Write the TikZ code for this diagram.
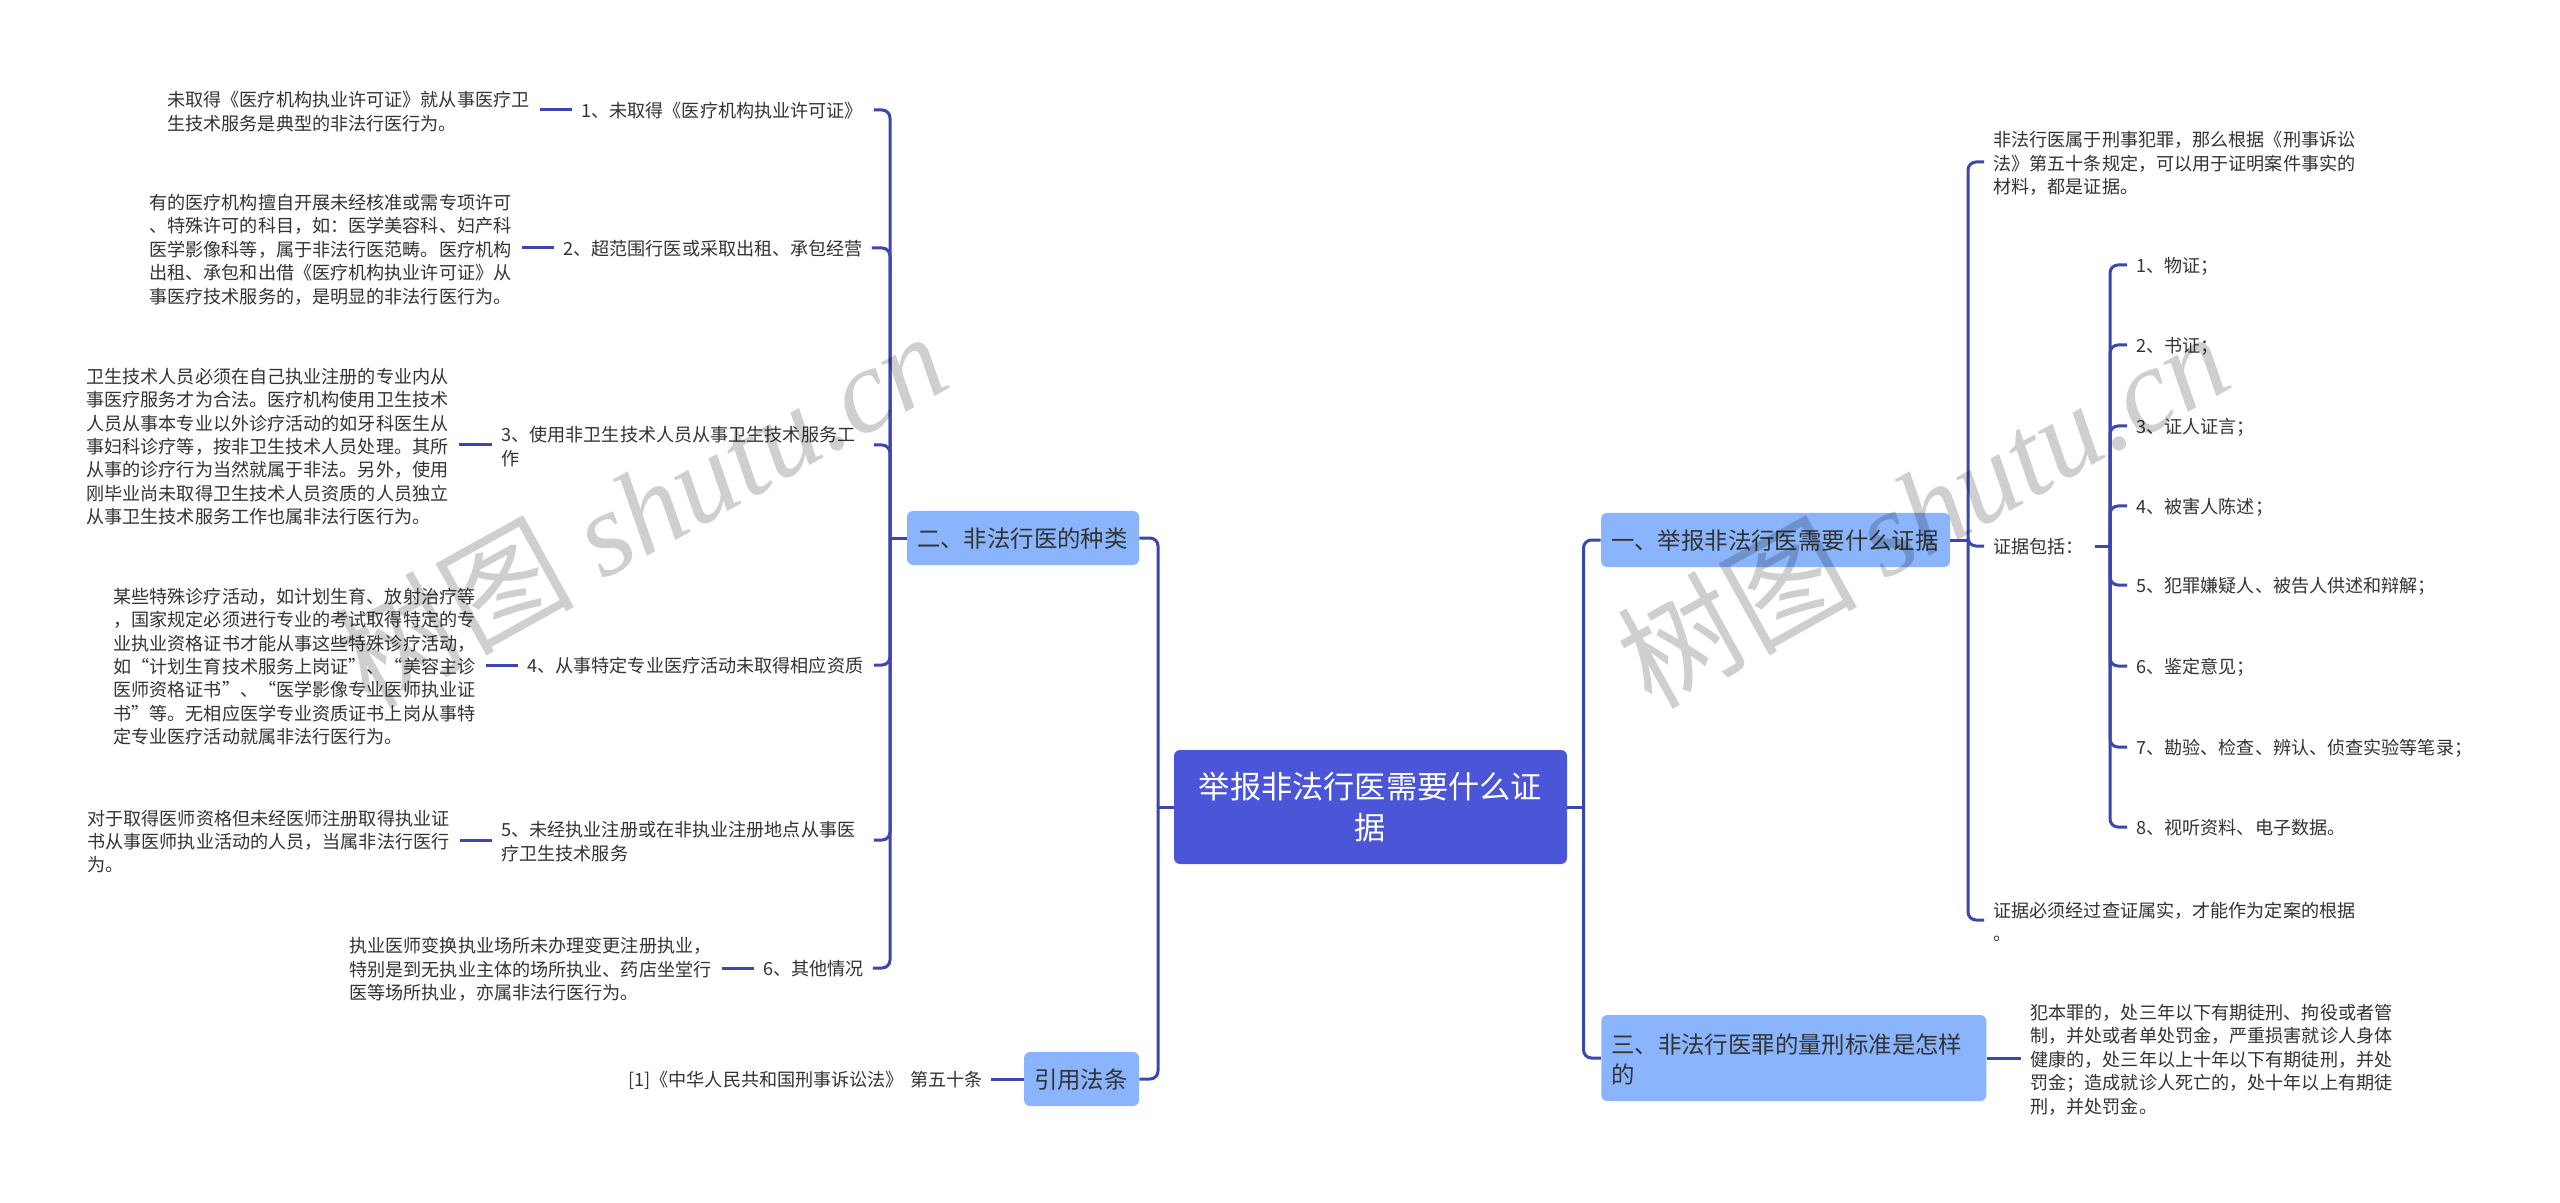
\documentclass[tikz,border=0pt]{standalone}
\usepackage{fontspec}
\setmainfont{Noto Sans CJK SC}
\newfontfamily\stampfont{Liberation Serif}
\definecolor{rootblue}{HTML}{4A55D8}
\definecolor{topicblue}{HTML}{8AB4FC}
\definecolor{linkblue}{HTML}{3C46B0}
\definecolor{inkgray}{HTML}{333333}
\tikzset{
    root/.style={fill=rootblue, text=white, rounded corners=3pt, align=center, inner sep=0pt,
        minimum width=196.5pt, minimum height=57pt, text width=180pt,
        font=\fontsize{15.6}{20.5}\selectfont},
    topic/.style={fill=topicblue, text=black!80, rounded corners=3pt, align=left, inner xsep=5pt, inner ysep=0pt,
        minimum height=27pt, font=\fontsize{11.7}{15}\selectfont,
        execute at end node={\par\vspace{-1.2pt}}},
    leaf/.style={anchor=west, align=left, inner xsep=4.5pt, inner ysep=0pt, text=inkgray,
        text width=181.5pt, font=\fontsize{9.05}{11.7}\selectfont,
        execute at end node={\par\vspace{-1.6pt}}},
    item/.style={leaf, text width=#1},
    link/.style={draw=linkblue, line width=1.5pt, rounded corners=4pt},
    stamp/.style={rotate=29, text=black, text opacity=0.19, inner sep=0pt, font=\fontsize{60}{64}\selectfont}
}
\begin{document}
\begin{tikzpicture}[x=0.5pt, y=-0.5pt]
    \useasboundingbox (0, 0) rectangle (2560, 1203);
    \fill[white] (0, 0) rectangle (2560, 1203);

    % centre and topics
    \node[root] (M) at (1370.5, 807) {举报非法行医需要什么证\\据};
    \node[topic, text width=164.5pt] (T1) at (1775.5, 540) {一、举报非法行医需要什么证据};
    \node[topic, text width=106pt] (T2) at (1023, 538) {二、非法行医的种类};
    \node[topic, text width=182.5pt, minimum height=43pt] (T3) at (1793.75, 1058) {三、非法行医罪的量刑标准是怎样\\的};
    \node[topic, text width=47.5pt] (T4) at (1081.5, 1079) {引用法条};

    % left side
    \node[leaf] (L1) at (158, 110) {未取得《医疗机构执业许可证》就从事医疗卫\\生技术服务是典型的非法行医行为。};
    \node[item=141.5pt] (I1) at (572, 110) {1、未取得《医疗机构执业许可证》};
    \node[leaf] (L2) at (140, 248) {有的医疗机构擅自开展未经核准或需专项许可\\、特殊许可的科目，如：医学美容科、妇产科\\医学影像科等，属于非法行医范畴。医疗机构\\出租、承包和出借《医疗机构执业许可证》从\\事医疗技术服务的，是明显的非法行医行为。};
    \node[item=149.5pt] (I2) at (554, 248) {2、超范围行医或采取出租、承包经营};
    \node[leaf] (L3) at (77, 445) {卫生技术人员必须在自己执业注册的专业内从\\事医疗服务才为合法。医疗机构使用卫生技术\\人员从事本专业以外诊疗活动的如牙科医生从\\事妇科诊疗等，按非卫生技术人员处理。其所\\从事的诊疗行为当然就属于非法。另外，使用\\刚毕业尚未取得卫生技术人员资质的人员独立\\从事卫生技术服务工作也属非法行医行为。};
    \node[item=181.5pt] (I3) at (492, 445) {3、使用非卫生技术人员从事卫生技术服务工\\作};
    \node[leaf] (L4) at (104, 665) {某些特殊诊疗活动，如计划生育、放射治疗等\\，国家规定必须进行专业的考试取得特定的专\\业执业资格证书才能从事这些特殊诊疗活动，\\如“计划生育技术服务上岗证”、“美容主诊\\医师资格证书”、“医学影像专业医师执业证\\书”等。无相应医学专业资质证书上岗从事特\\定专业医疗活动就属非法行医行为。};
    \node[item=168.5pt] (I4) at (518, 665) {4、从事特定专业医疗活动未取得相应资质};
    \node[leaf] (L5) at (78, 840) {对于取得医师资格但未经医师注册取得执业证\\书从事医师执业活动的人员，当属非法行医行\\为。};
    \node[item=181.5pt] (I5) at (492, 840) {5、未经执业注册或在非执业注册地点从事医\\疗卫生技术服务};
    \node[leaf] (L6) at (340, 968) {执业医师变换执业场所未办理变更注册执业，\\特别是到无执业主体的场所执业、药店坐堂行\\医等场所执业，亦属非法行医行为。};
    \node[item=50pt] (I6) at (754, 968) {6、其他情况};
    \node[item=176.5pt] (R) at (619, 1079) {\mbox{[1]《中华人民共和国刑事诉讼法》 第五十条}};

    % right side
    \node[leaf] (E0) at (1984, 162) {非法行医属于刑事犯罪，那么根据《刑事诉讼\\法》第五十条规定，可以用于证明案件事实的\\材料，都是证据。};
    \node[item=46pt] (E1) at (1984, 546) {证据包括：};
    \node[leaf] (E2) at (1984, 920) {证据必须经过查证属实，才能作为定案的根据\\。};
    \node[leaf] (L7) at (2021, 1058) {犯本罪的，处三年以下有期徒刑、拘役或者管\\制，并处或者单处罚金，严重损害就诊人身体\\健康的，处三年以上十年以下有期徒刑，并处\\罚金；造成就诊人死亡的，处十年以上有期徒\\刑，并处罚金。};
    \node[leaf] (F1) at (2127, 265) {1、物证；};
    \node[leaf] (F2) at (2127, 345) {2、书证；};
    \node[leaf] (F3) at (2127, 426) {3、证人证言；};
    \node[leaf] (F4) at (2127, 506) {4、被害人陈述；};
    \node[leaf] (F5) at (2127, 585) {5、犯罪嫌疑人、被告人供述和辩解；};
    \node[leaf] (F6) at (2127, 666) {6、鉴定意见；};
    \node[leaf] (F7) at (2127, 747) {7、勘验、检查、辨认、侦查实验等笔录；};
    \node[leaf] (F8) at (2127, 827) {8、视听资料、电子数据。};

    \coordinate (HL) at (1158, 807);
    \coordinate (HR) at (1583.5, 807);
    \coordinate (H2) at (890, 538);
    \coordinate (H1) at (1968, 540);
    \coordinate (HE) at (2110, 546);

    \draw[link] (M.west) -- (HL);
    \draw[link] (T2.east) -| (HL);
    \draw[link] (T4.east) -| (HL);
    \draw[link] (M.east) -- (HR);
    \draw[link] (T1.west) -| (HR);
    \draw[link] (T3.west) -| (HR);

    \draw[link] (T2.west) -- (H2);
    \draw[link] (I1.east) -| (H2);
    \draw[link] (I2.east) -| (H2);
    \draw[link] (I3.east) -| (H2);
    \draw[link] (I4.east) -| (H2);
    \draw[link] (I5.east) -| (H2);
    \draw[link] (I6.east) -| (H2);
    \draw[link] (L1.east) -- (I1.west);
    \draw[link] (L2.east) -- (I2.west);
    \draw[link] (L3.east) -- (I3.west);
    \draw[link] (L4.east) -- (I4.west);
    \draw[link] (L5.east) -- (I5.west);
    \draw[link] (L6.east) -- (I6.west);
    \draw[link] (R.east) -- (T4.west);

    \draw[link] (T1.east) -- (H1);
    \draw[link] (E0.west) -| (H1);
    \draw[link] (E1.west) -| (H1);
    \draw[link] (E2.west) -| (H1);
    \draw[link] (T3.east) -- (L7.west);
    \draw[link] (E1.east) -- (HE);
    \draw[link] (F1.west) -| (HE);
    \draw[link] (F2.west) -| (HE);
    \draw[link] (F3.west) -| (HE);
    \draw[link] (F4.west) -| (HE);
    \draw[link] (F5.west) -| (HE);
    \draw[link] (F6.west) -| (HE);
    \draw[link] (F7.west) -| (HE);
    \draw[link] (F8.west) -| (HE);

    % watermark
    \node[stamp] (S1) at (640, 508) {树图 {\stampfont\itshape shutu.cn}};
    \node[stamp] (S2) at (1922, 508) {树图 {\stampfont\itshape shutu.cn}};
\end{tikzpicture}
\end{document}
